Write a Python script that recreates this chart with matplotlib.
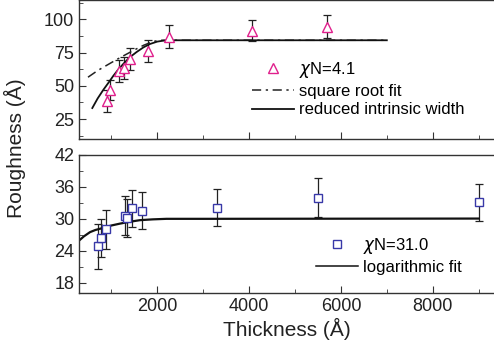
import numpy as np
import matplotlib.pyplot as plt
from matplotlib.ticker import MultipleLocator

plt.rcParams['font.family'] = ['Liberation Sans', 'DejaVu Sans']

# top panel: chi N = 4.1
thk_a = [898, 963, 1159, 1275, 1405, 1790, 2248, 4057, 5704]
rough_a = [38.7, 47.0, 61.3, 63.7, 70.3, 76.3, 87.0, 91.3, 94.5]
err_a = [8.5, 7.5, 8.2, 8.2, 8.4, 8.2, 8.7, 7.9, 8.7]

# square root fit
sq_x = [490, 700, 900, 1100, 1300, 1500, 1700, 1900, 2050, 7000]
sq_y = [56.5, 61.5, 65.5, 69.5, 73.3, 77.0, 80.5, 83.3, 84.3, 84.3]

# reduced intrinsic width
riw_x = [584, 700, 824, 950, 1041, 1150, 1259, 1400, 1551, 1700, 1841, 2000, 2131, 2400, 7000]
riw_y = [33.3, 40.5, 47.0, 53.0, 57.5, 62.3, 66.5, 71.5, 75.5, 79.0, 81.5, 83.3, 84.0, 84.3, 84.3]

# bottom panel: chi N = 31.0
thk_b = [701, 781, 889, 1290, 1347, 1456, 1667, 3307, 5494, 9002]
rough_b = [24.8, 26.4, 28.0, 30.6, 30.1, 32.0, 31.5, 32.1, 34.0, 33.1]
err_b = [4.2, 3.6, 3.6, 3.6, 3.6, 3.5, 3.5, 3.5, 3.6, 3.5]

# logarithmic fit
log_x = [294, 400, 534, 650, 824, 1000, 1187, 1400, 1623, 1900, 2200, 3000, 9000]
log_y = [25.9, 26.7, 27.5, 27.9, 28.3, 28.75, 29.1, 29.45, 29.75, 29.9, 30.0, 30.0, 30.05]

W, H = 494, 353
fig = plt.figure(figsize=(W / 100, H / 100), dpi=100)
ax1 = fig.add_axes([79 / W, 1 - 139 / H, 1 - 79 / W, 139 / H])
ax2 = fig.add_axes([79 / W, 1 - 293.3 / H, 1 - 79 / W, (293.3 - 155) / H])

pink = '#e0208c'
blue = '#3838a8'

ax1.errorbar(thk_a, rough_a, yerr=err_a, fmt='none', ecolor='#222222',
             elinewidth=0.9, capsize=3, capthick=0.9, zorder=2)
ax1.plot(thk_a, rough_a, linestyle='none', marker='^', markersize=7,
         markerfacecolor='white', markeredgecolor=pink, markeredgewidth=1,
         label=r'$\chi$N=4.1', zorder=3)
ax1.plot(sq_x, sq_y, color='#222222', lw=1.1, linestyle=(0, (6, 3, 1.5, 3)),
         label='square root fit')
ax1.plot(riw_x, riw_y, color='#111111', lw=1.3, label='reduced intrinsic width')

ax2.errorbar(thk_b, rough_b, yerr=err_b, fmt='none', ecolor='#222222',
             elinewidth=0.9, capsize=3, capthick=0.9, zorder=2)
ax2.plot(thk_b, rough_b, linestyle='none', marker='s', markersize=6,
         markerfacecolor='white', markeredgecolor=blue, markeredgewidth=1,
         label=r'$\chi$N=31.0', zorder=3)
ax2.plot(log_x, log_y, color='#111111', lw=1.6, label='logarithmic fit')

for ax in (ax1, ax2):
    ax.set_xlim(294, 9335)
    ax.xaxis.set_major_locator(MultipleLocator(2000))
    ax.xaxis.set_minor_locator(MultipleLocator(1000))
    ax.spines['right'].set_visible(False)
    for s in ('left', 'bottom', 'top'):
        ax.spines[s].set_linewidth(1)
        ax.spines[s].set_color('#333333')
    ax.tick_params(which='both', direction='in', top=False, right=False,
                   labelsize=13, colors='#333333', labelcolor='#222222')
    ax.tick_params(which='major', length=5)
    ax.tick_params(which='minor', length=3)

ax1.set_ylim(10, 114.6)
ax1.yaxis.set_major_locator(MultipleLocator(25))
ax1.yaxis.set_minor_locator(MultipleLocator(12.5))
ax1.tick_params(labelbottom=False)

ax2.set_ylim(16, 42)
ax2.yaxis.set_major_locator(MultipleLocator(6))
ax2.yaxis.set_minor_locator(MultipleLocator(3))

ax2.set_xlabel('Thickness (Å)', fontsize=15, color='#222222', labelpad=2)
fig.text(15 / W, 1 - 148 / H, 'Roughness (Å)', rotation=90, fontsize=15,
         color='#222222', ha='center', va='center')

leg_kw = dict(frameon=False, fontsize=12, handlelength=2.5, handletextpad=0.3,
              labelspacing=0.22, borderpad=0, borderaxespad=0, loc='upper left',
              bbox_transform=fig.transFigure)
leg1 = ax1.legend(bbox_to_anchor=(252 / W, 1 - 60 / H), **leg_kw)
leg2 = ax2.legend(bbox_to_anchor=(316 / W, 1 - 236 / H), **leg_kw)
for ln in leg2.get_lines():
    ln.set_linewidth(1.1)

fig.savefig('out.png', dpi=100)
